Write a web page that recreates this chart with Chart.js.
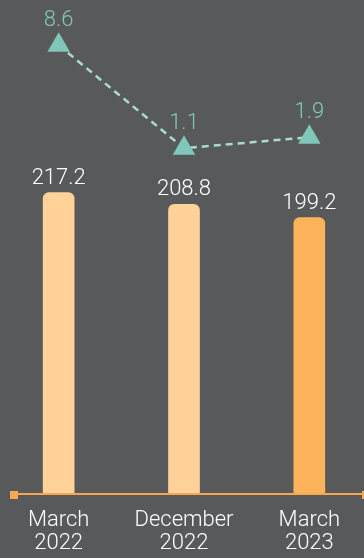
<!DOCTYPE html>
<html>
<head>
<meta charset="utf-8">
<script src="https://cdn.jsdelivr.net/npm/chart.js@4.4.1/dist/chart.umd.min.js"></script>
<style>
  html, body { margin: 0; padding: 0; background: #58595b; }
  #wrap { width: 364px; height: 558px; position: relative; }
</style>
</head>
<body>
<div id="wrap"><canvas id="chart"></canvas></div>
<script>
// Chart data
var categories = [['March', '2022'], ['December', '2022'], ['March', '2023']];
var barValues = [217.2, 208.8, 199.2];
var lineValues = [8.6, 1.1, 1.9];
var barColors = ['#ffd29a', '#ffd29a', '#fdb35a'];

var FONT = "Roboto, 'Liberation Sans', Arial, sans-serif";

// Let the category band run a little past the canvas edges
var widenX = {
  id: 'widenX',
  afterLayout: function(chart) {
    var x = chart.scales.x;
    x.left = -4;
    x.right = chart.width + 8;
    x.width = x.right - x.left;
    x.configure();
  }
};

// Value labels above bars and points
var valueLabels = {
  id: 'valueLabels',
  afterDatasetsDraw: function(chart) {
    var ctx = chart.ctx;
    ctx.save();
    ctx.textAlign = 'center';
    ctx.textBaseline = 'alphabetic';
    ctx.font = '300 22px ' + FONT;
    chart.getDatasetMeta(0).data.forEach(function(el, i) {
      ctx.fillStyle = '#ffffff';
      ctx.fillText(barValues[i].toFixed(1), el.x, el.y - 9);
    });
    chart.getDatasetMeta(1).data.forEach(function(el, i) {
      ctx.fillStyle = '#7fc8b9';
      ctx.fillText(lineValues[i].toFixed(1), el.x, el.y - 19);
    });
    ctx.restore();
  }
};

// Orange base line with square ends
var baseLine = {
  id: 'baseLine',
  afterDatasetsDraw: function(chart) {
    var ctx = chart.ctx;
    var y = chart.scales.y.getPixelForValue(0);
    ctx.save();
    ctx.strokeStyle = '#f7a84d';
    ctx.fillStyle = '#f7a84d';
    ctx.lineWidth = 2;
    ctx.beginPath();
    ctx.moveTo(14, y);
    ctx.lineTo(chart.width, y);
    ctx.stroke();
    ctx.fillRect(10, y - 3, 8, 8);
    ctx.fillRect(chart.width - 2, y - 3, 8, 8);
    ctx.restore();
  }
};

new Chart(document.getElementById('chart'), {
  type: 'bar',
  data: {
    labels: categories,
    datasets: [{
      type: 'bar',
      data: barValues,
      backgroundColor: barColors,
      barThickness: 31,
      borderRadius: 6,
      borderSkipped: 'start',
      yAxisID: 'y',
      order: 2
    }, {
      type: 'line',
      data: lineValues,
      borderColor: '#a9dccd',
      borderWidth: 2.5,
      borderDash: [7, 5],
      pointStyle: 'triangle',
      pointRadius: 13,
      pointBorderWidth: 0,
      pointBackgroundColor: '#7fc8b9',
      pointBorderColor: '#7fc8b9',
      yAxisID: 'y1',
      order: 1
    }]
  },
  options: {
    responsive: true,
    maintainAspectRatio: false,
    animation: false,
    layout: { padding: 0, autoPadding: false },
    plugins: { legend: { display: false }, tooltip: { enabled: false } },
    scales: {
      x: {
        grid: { display: false, drawTicks: false },
        border: { display: false },
        ticks: {
          color: '#ffffff',
          font: { family: FONT, size: 22, weight: '300', lineHeight: 1.05 },
          padding: 15,
          maxRotation: 0
        },
        afterFit: function(scale) { scale.height = 64; }
      },
      y: { display: false, min: 0, max: 356 },
      y1: { display: false, min: -24.1, max: 11.9 }
    }
  },
  plugins: [widenX, valueLabels, baseLine]
});
</script>
</body>
</html>
